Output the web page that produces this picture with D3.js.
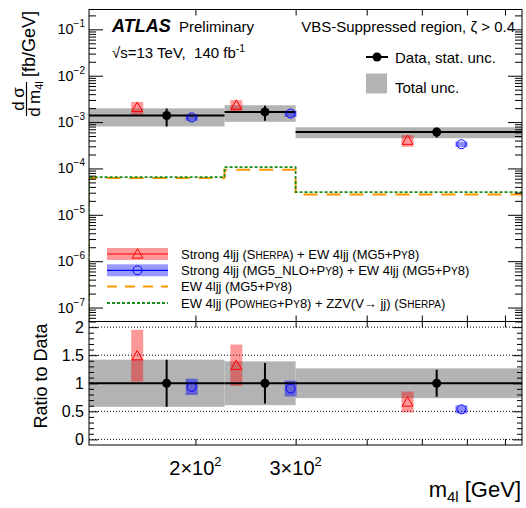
<!DOCTYPE html>
<html>
<head>
<meta charset="utf-8">
<script src="https://cdn.jsdelivr.net/npm/d3@7"></script>
<style>
  body { margin: 0; background: #fff; }
  svg { display: block; font-family: "Liberation Sans", Arial, Helvetica, sans-serif; }
</style>
</head>
<body>
<svg width="526" height="508"></svg>
<script>
const svg = d3.select("svg");

// m4l bins [GeV]
const binEdges = [130, 225, 300, 1000];

// data
const dataX = [178, 265, 531];
const dataVal = [1.39e-3, 1.66e-3, 6.1e-4];
const dataStat = [0.42, 0.36, 0.24];      // relative stat. unc.
const totalUnc = [0.42, 0.39, 0.265];     // relative total unc.

// Strong 4ljj (Sherpa) + EW
const sherpaX = [158, 236, 472];
const sherpaVal = [2.07e-3, 2.32e-3, 4.06e-4];
const sherpaRatio = [1.49, 1.32, 0.665];
const sherpaUnc = [0.31, 0.28, 0.28];

// Strong 4ljj (MG5_NLO) + EW
const nloX = [197, 294, 587];
const nloVal = [1.26e-3, 1.53e-3, 3.33e-4];
const nloRatio = [0.936, 0.906, 0.535];
const nloUnc = [0.155, 0.155, 0.135];

// EW only predictions
const ewMG5 = [6.2e-5, 9.4e-5, 2.75e-5];
const ewPowheg = [6.5e-5, 1.07e-4, 3.09e-5];

const xTickVals = [200, 300, 400, 500, 600, 700];
const xTickLabels = [[200, "2"], [300, "3"]];
const yDecades = [-7, -6, -5, -4, -3, -2, -1];
const ratioMajor = [0, 0.5, 1, 1.5, 2];

const L = 89, R = 522, T = 9.5, MID = 321.5, B = 445;

const x = d3.scaleLog().domain([130, 750]).range([L, R]);
const yTop = d3.scaleLog().domain([5e-8, 0.268]).range([MID, T]);
const yR = d3.scaleLinear().domain([-0.1, 2.1]).range([B, MID]);

const defs = svg.append("defs");
defs.append("clipPath").attr("id", "clipTop")
  .append("rect").attr("x", L).attr("y", T).attr("width", R - L).attr("height", MID - T);
defs.append("clipPath").attr("id", "clipBot")
  .append("rect").attr("x", L).attr("y", MID).attr("width", R - L).attr("height", B - MID);

const bins = dataVal.map((v, i) => ({ i, x0: binEdges[i], x1: binEdges[i + 1] }));
const tri = d3.symbol(d3.symbolTriangle, 50);

// ---------- top panel ----------
const gTop = svg.append("g").attr("clip-path", "url(#clipTop)");

gTop.selectAll(".band").data(bins).join("rect")
  .attr("x", d => x(d.x0)).attr("width", d => x(d.x1) - x(d.x0))
  .attr("y", d => yTop(dataVal[d.i] * (1 + totalUnc[d.i])))
  .attr("height", d => yTop(dataVal[d.i] * (1 - totalUnc[d.i])) - yTop(dataVal[d.i] * (1 + totalUnc[d.i])))
  .attr("fill", "#b3b3b3");

function stepPts(vals) {
  const pts = [[binEdges[0], yTop.domain()[0]]];
  vals.forEach((v, i) => pts.push([binEdges[i], v]));
  pts.push([binEdges[binEdges.length - 1], vals[vals.length - 1]]);
  return pts;
}
const stepLine = d3.line().x(d => x(d[0])).y(d => yTop(d[1])).curve(d3.curveStepAfter);

gTop.append("path").attr("d", stepLine(stepPts(ewMG5)))
  .attr("fill", "none").attr("stroke", "#ff9900").attr("stroke-width", 2)
  .attr("stroke-dasharray", "14,9");
gTop.append("path").attr("d", stepLine(stepPts(ewPowheg)))
  .attr("fill", "none").attr("stroke", "#1a8c1a").attr("stroke-width", 1.8)
  .attr("stroke-dasharray", "3,2");

// prediction boxes
gTop.selectAll(".sbox").data(sherpaVal).join("rect")
  .attr("x", (d, i) => x(sherpaX[i]) - 6).attr("width", 12)
  .attr("y", (d, i) => yTop(d * (1 + sherpaUnc[i])))
  .attr("height", (d, i) => yTop(d * (1 - sherpaUnc[i])) - yTop(d * (1 + sherpaUnc[i])))
  .attr("fill", "red").attr("fill-opacity", 0.4);
gTop.selectAll(".nbox").data(nloVal).join("rect")
  .attr("x", (d, i) => x(nloX[i]) - 6).attr("width", 12)
  .attr("y", (d, i) => yTop(d * (1 + nloUnc[i])))
  .attr("height", (d, i) => yTop(d * (1 - nloUnc[i])) - yTop(d * (1 + nloUnc[i])))
  .attr("fill", "blue").attr("fill-opacity", 0.45);

// data
gTop.selectAll(".dline").data(bins).join("line")
  .attr("x1", d => x(d.x0)).attr("x2", d => x(d.x1))
  .attr("y1", d => yTop(dataVal[d.i])).attr("y2", d => yTop(dataVal[d.i]))
  .attr("stroke", "#000").attr("stroke-width", 2);
gTop.selectAll(".derr").data(dataVal).join("line")
  .attr("x1", (d, i) => x(dataX[i])).attr("x2", (d, i) => x(dataX[i]))
  .attr("y1", (d, i) => yTop(d * (1 + dataStat[i]))).attr("y2", (d, i) => yTop(d * (1 - dataStat[i])))
  .attr("stroke", "#000").attr("stroke-width", 2);
gTop.selectAll(".dpt").data(dataVal).join("circle")
  .attr("cx", (d, i) => x(dataX[i])).attr("cy", d => yTop(d)).attr("r", 4.5).attr("fill", "#000");

gTop.selectAll(".stri").data(sherpaVal).join("path")
  .attr("d", tri)
  .attr("transform", (d, i) => `translate(${x(sherpaX[i])},${yTop(d) + 1})`)
  .attr("fill", "none").attr("stroke", "red").attr("stroke-width", 1);
gTop.selectAll(".ncirc").data(nloVal).join("circle")
  .attr("cx", (d, i) => x(nloX[i])).attr("cy", d => yTop(d)).attr("r", 4.5)
  .attr("fill", "none").attr("stroke", "blue").attr("stroke-width", 1);

// ---------- ratio panel ----------
const gBot = svg.append("g").attr("clip-path", "url(#clipBot)");

gBot.selectAll(".grid").data([0, 0.5, 1.5, 2]).join("line")
  .attr("x1", L).attr("x2", R).attr("y1", d => yR(d)).attr("y2", d => yR(d))
  .attr("stroke", "#000").attr("stroke-width", 1).attr("stroke-dasharray", "1,2");

gBot.selectAll(".band").data(bins).join("rect")
  .attr("x", d => x(d.x0)).attr("width", d => x(d.x1) - x(d.x0))
  .attr("y", d => yR(1 + totalUnc[d.i]))
  .attr("height", d => yR(1 - totalUnc[d.i]) - yR(1 + totalUnc[d.i]))
  .attr("fill", "#b3b3b3");

gBot.selectAll(".sbox").data(sherpaRatio).join("rect")
  .attr("x", (d, i) => x(sherpaX[i]) - 6).attr("width", 12)
  .attr("y", (d, i) => yR(d * (1 + sherpaUnc[i])))
  .attr("height", (d, i) => yR(d * (1 - sherpaUnc[i])) - yR(d * (1 + sherpaUnc[i])))
  .attr("fill", "red").attr("fill-opacity", 0.4);
gBot.selectAll(".nbox").data(nloRatio).join("rect")
  .attr("x", (d, i) => x(nloX[i]) - 6).attr("width", 12)
  .attr("y", (d, i) => yR(d * (1 + nloUnc[i])))
  .attr("height", (d, i) => yR(d * (1 - nloUnc[i])) - yR(d * (1 + nloUnc[i])))
  .attr("fill", "blue").attr("fill-opacity", 0.45);

gBot.selectAll(".dline").data(bins).join("line")
  .attr("x1", d => x(d.x0)).attr("x2", d => x(d.x1))
  .attr("y1", yR(1)).attr("y2", yR(1))
  .attr("stroke", "#000").attr("stroke-width", 2);
gBot.selectAll(".derr").data(dataStat).join("line")
  .attr("x1", (d, i) => x(dataX[i])).attr("x2", (d, i) => x(dataX[i]))
  .attr("y1", d => yR(1 + d)).attr("y2", d => yR(1 - d))
  .attr("stroke", "#000").attr("stroke-width", 2);
gBot.selectAll(".dpt").data(dataX).join("circle")
  .attr("cx", d => x(d)).attr("cy", yR(1)).attr("r", 4.5).attr("fill", "#000");

gBot.selectAll(".stri").data(sherpaRatio).join("path")
  .attr("d", tri)
  .attr("transform", (d, i) => `translate(${x(sherpaX[i])},${yR(d) + 1})`)
  .attr("fill", "none").attr("stroke", "red").attr("stroke-width", 1);
gBot.selectAll(".ncirc").data(nloRatio).join("circle")
  .attr("cx", (d, i) => x(nloX[i])).attr("cy", d => yR(d)).attr("r", 4.5)
  .attr("fill", "none").attr("stroke", "blue").attr("stroke-width", 1);

// ---------- axes ----------
function ticks(g) { g.select(".domain").remove(); g.selectAll("text").remove(); g.selectAll("line").attr("stroke", "#000"); }

const yMinor = [];
yDecades.concat([-8]).forEach(e => {
  for (let k = 2; k <= 9; k++) {
    const v = k * Math.pow(10, e);
    if (v >= yTop.domain()[0] && v <= yTop.domain()[1]) yMinor.push(v);
  }
});
const yMajor = yDecades.map(e => Math.pow(10, e));

svg.append("g").attr("transform", `translate(${L},0)`)
  .call(d3.axisRight(yTop).tickValues(yMajor).tickSize(14)).call(ticks);
svg.append("g").attr("transform", `translate(${L},0)`)
  .call(d3.axisRight(yTop).tickValues(yMinor).tickSize(7)).call(ticks);
svg.append("g").attr("transform", `translate(${R},0)`)
  .call(d3.axisLeft(yTop).tickValues(yMajor).tickSize(14)).call(ticks);
svg.append("g").attr("transform", `translate(${R},0)`)
  .call(d3.axisLeft(yTop).tickValues(yMinor).tickSize(7)).call(ticks);

const rMinor = d3.range(0, 21).map(k => k / 10).filter(v => Math.abs(v * 2 - Math.round(v * 2)) > 1e-6);
svg.append("g").attr("transform", `translate(${L},0)`)
  .call(d3.axisRight(yR).tickValues(ratioMajor).tickSize(9)).call(ticks);
svg.append("g").attr("transform", `translate(${L},0)`)
  .call(d3.axisRight(yR).tickValues(rMinor).tickSize(5)).call(ticks);
svg.append("g").attr("transform", `translate(${R},0)`)
  .call(d3.axisLeft(yR).tickValues(ratioMajor).tickSize(9)).call(ticks);
svg.append("g").attr("transform", `translate(${R},0)`)
  .call(d3.axisLeft(yR).tickValues(rMinor).tickSize(5)).call(ticks);

[[T, d3.axisBottom], [MID, d3.axisTop], [MID, d3.axisBottom], [B, d3.axisTop]].forEach(([yy, ax]) => {
  svg.append("g").attr("transform", `translate(0,${yy})`)
    .call(ax(x).tickValues(xTickVals).tickSize(6)).call(ticks);
});

// frames
svg.append("rect").attr("x", L).attr("y", T).attr("width", R - L).attr("height", MID - T)
  .attr("fill", "none").attr("stroke", "#000");
svg.append("rect").attr("x", L).attr("y", MID).attr("width", R - L).attr("height", B - MID)
  .attr("fill", "none").attr("stroke", "#000");

// tick labels
yDecades.forEach(e => {
  const t = svg.append("text").attr("x", 85).attr("y", yTop(Math.pow(10, e)) + 5)
    .attr("text-anchor", "end").attr("font-size", 14.5);
  t.append("tspan").text("10");
  t.append("tspan").attr("font-size", 10).attr("dy", -7).text("\u2212" + (-e));
});
ratioMajor.forEach(v => {
  svg.append("text").attr("x", 84).attr("y", yR(v) + 5.5)
    .attr("text-anchor", "end").attr("font-size", 16).text(String(v));
});
xTickLabels.forEach(([v, m]) => {
  const t = svg.append("text").attr("x", x(v)).attr("y", 475)
    .attr("text-anchor", "middle").attr("font-size", 20);
  t.append("tspan").text(m + "\u00d710");
  t.append("tspan").attr("font-size", 13).attr("dy", -9).text("2");
});

// axis titles
const xt = svg.append("text").attr("x", 521).attr("y", 497).attr("text-anchor", "end").attr("font-size", 22);
xt.append("tspan").text("m");
xt.append("tspan").attr("font-size", 15).attr("dy", 5).text("4l");
xt.append("tspan").attr("dy", -5).text(" [GeV]");

svg.append("text").attr("transform", "translate(47,376) rotate(-90)")
  .attr("text-anchor", "middle").attr("font-size", 18).text("Ratio to Data");

svg.append("text").attr("transform", "translate(35,77) rotate(-90)")
  .attr("font-size", 18).text("[fb/GeV]");
svg.append("text").attr("transform", "translate(24,99) rotate(-90)")
  .attr("text-anchor", "middle").attr("font-size", 17).text("d\u2009\u03c3");
svg.append("line").attr("x1", 26.5).attr("x2", 26.5).attr("y1", 82).attr("y2", 116)
  .attr("stroke", "#000").attr("stroke-width", 1.2);
const den = svg.append("text").attr("transform", "translate(39.5,99) rotate(-90)")
  .attr("text-anchor", "middle").attr("font-size", 17);
den.append("tspan").text("d\u2009m");
den.append("tspan").attr("font-size", 11).attr("dy", 3).text("4l");

// labels
svg.append("text").attr("x", 112).attr("y", 32).attr("font-size", 18)
  .attr("font-weight", "bold").attr("font-style", "italic").text("ATLAS");
svg.append("text").attr("x", 179).attr("y", 32).attr("font-size", 15).text("Preliminary");
const lumi = svg.append("text").attr("x", 112).attr("y", 57.5).attr("font-size", 15);
lumi.append("tspan").text("\u221as=13 TeV,\u00a0\u00a0140 fb");
lumi.append("tspan").attr("font-size", 10.5).attr("dy", -6).text("-1");
svg.append("text").attr("x", 515).attr("y", 32).attr("text-anchor", "end").attr("font-size", 15)
  .text("VBS-Suppressed region, \u03b6 > 0.4");

// legend top right
svg.append("line").attr("x1", 366).attr("x2", 388).attr("y1", 57).attr("y2", 57)
  .attr("stroke", "#000").attr("stroke-width", 2);
svg.append("circle").attr("cx", 377).attr("cy", 57).attr("r", 4.5).attr("fill", "#000");
svg.append("text").attr("x", 395).attr("y", 62.5).attr("font-size", 15).text("Data, stat. unc.");
svg.append("rect").attr("x", 366).attr("y", 73.5).attr("width", 21).attr("height", 20).attr("fill", "#b3b3b3");
svg.append("text").attr("x", 395).attr("y", 92.5).attr("font-size", 15).text("Total unc.");

// legend bottom left
const legRows = [254, 270.3, 286.6, 303];
const lg = svg.append("g");
function sc(t, parts) {
  parts.forEach(p => t.append("tspan").attr("font-size", p[1] ? 10 : 13).text(p[0]));
}
// row 1
lg.append("rect").attr("x", 107).attr("y", legRows[0] - 6).attr("width", 61).attr("height", 12)
  .attr("fill", "red").attr("fill-opacity", 0.4);
lg.append("line").attr("x1", 107).attr("x2", 168).attr("y1", legRows[0]).attr("y2", legRows[0])
  .attr("stroke", "red").attr("stroke-width", 1.2);
lg.append("path").attr("d", tri).attr("transform", `translate(137.5,${legRows[0] + 1})`)
  .attr("fill", "none").attr("stroke", "red");
sc(lg.append("text").attr("x", 181).attr("y", legRows[0] + 4.5).attr("font-size", 13),
  [["Strong 4ljj (S"], ["HERPA", 1], [") + EW 4ljj (MG5+P"], ["Y", 1], ["8)"]]);
// row 2
lg.append("rect").attr("x", 107).attr("y", legRows[1] - 6).attr("width", 61).attr("height", 12)
  .attr("fill", "blue").attr("fill-opacity", 0.4);
lg.append("line").attr("x1", 107).attr("x2", 168).attr("y1", legRows[1]).attr("y2", legRows[1])
  .attr("stroke", "blue").attr("stroke-width", 1.2);
lg.append("circle").attr("cx", 137.5).attr("cy", legRows[1]).attr("r", 4.5)
  .attr("fill", "none").attr("stroke", "blue");
sc(lg.append("text").attr("x", 181).attr("y", legRows[1] + 4.5).attr("font-size", 13),
  [["Strong 4ljj (MG5_NLO+P"], ["Y", 1], ["8) + EW 4ljj (MG5+P"], ["Y", 1], ["8)"]]);
// row 3
lg.append("line").attr("x1", 107).attr("x2", 168).attr("y1", legRows[2]).attr("y2", legRows[2])
  .attr("stroke", "#ff9900").attr("stroke-width", 2).attr("stroke-dasharray", "10,8");
sc(lg.append("text").attr("x", 181).attr("y", legRows[2] + 4.5).attr("font-size", 13),
  [["EW 4ljj (MG5+P"], ["Y", 1], ["8)"]]);
// row 4
lg.append("line").attr("x1", 107).attr("x2", 168).attr("y1", legRows[3]).attr("y2", legRows[3])
  .attr("stroke", "#1a8c1a").attr("stroke-width", 1.8).attr("stroke-dasharray", "3,2");
sc(lg.append("text").attr("x", 181).attr("y", legRows[3] + 4.5).attr("font-size", 13),
  [["EW 4ljj (P"], ["OWHEG", 1], ["+P"], ["Y", 1], ["8) + ZZV(V\u2192 jj) (S"], ["HERPA", 1], [")"]]);
</script>
</body>
</html>
